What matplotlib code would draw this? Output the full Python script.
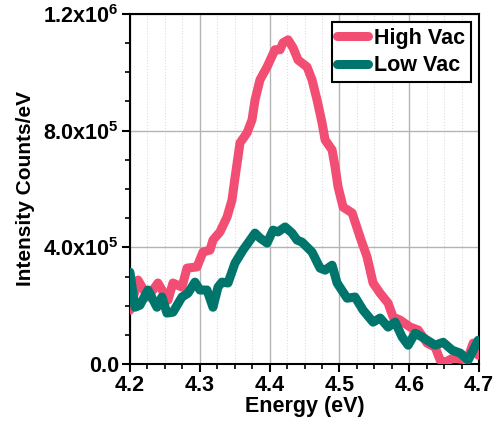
import numpy as np
import matplotlib.pyplot as plt
from matplotlib.ticker import MultipleLocator, FixedLocator, FixedFormatter

plt.rcParams['font.family'] = ['Liberation Sans', 'DejaVu Sans']
plt.rcParams['font.weight'] = 'bold'
plt.rcParams['mathtext.fontset'] = 'custom'
plt.rcParams['mathtext.rm'] = 'Liberation Sans:bold'
plt.rcParams['mathtext.bf'] = 'Liberation Sans:bold'

# High Vac curve (energy in eV, intensity in counts/eV)
high_e = [4.200, 4.2115, 4.2258, 4.2401, 4.2544, 4.2616, 4.2745, 4.2817, 4.2960, 4.3046,
          4.3146, 4.3189, 4.3289, 4.3390, 4.3461, 4.3504, 4.3576, 4.3676, 4.3748, 4.3791,
          4.3862, 4.3963, 4.4077, 4.4149, 4.4192, 4.4264, 4.4335, 4.4407, 4.4536, 4.4607,
          4.4679, 4.4751, 4.4794, 4.4894, 4.4937, 4.4980, 4.5052, 4.5181, 4.5295, 4.5395,
          4.5481, 4.5582, 4.5696, 4.5768, 4.5868, 4.6011, 4.6126, 4.6255, 4.6370, 4.6441,
          4.6513, 4.6628, 4.6828, 4.6914, 4.6986]
high_i = [185e3, 288e3, 230e3, 278e3, 219e3, 278e3, 264e3, 329e3, 333e3, 384e3,
          391e3, 425e3, 453e3, 504e3, 562e3, 638e3, 758e3, 792e3, 837e3, 905e3,
          974e3, 1018e3, 1077e3, 1077e3, 1101e3, 1111e3, 1084e3, 1042e3, 1018e3, 974e3,
          905e3, 826e3, 768e3, 734e3, 676e3, 607e3, 538e3, 518e3, 435e3, 367e3,
          278e3, 243e3, 209e3, 161e3, 151e3, 127e3, 117e3, 72e3, 58e3, 14e3,
          7e3, 21e3, 14e3, 72e3, 31e3]

# Low Vac curve
low_e = [4.200, 4.2072, 4.2143, 4.2258, 4.2387, 4.2458, 4.2530, 4.2616, 4.2745, 4.2831,
         4.2931, 4.3003, 4.3103, 4.3189, 4.3261, 4.3318, 4.3404, 4.3504, 4.3619, 4.3691,
         4.3791, 4.3862, 4.3963, 4.4049, 4.4120, 4.4221, 4.4321, 4.4393, 4.4464, 4.4607,
         4.4722, 4.4794, 4.4894, 4.4966, 4.5109, 4.5223, 4.5338, 4.5481, 4.5582, 4.5696,
         4.5797, 4.5897, 4.5983, 4.6083, 4.6183, 4.6370, 4.6484, 4.6613, 4.6728, 4.6842,
         4.6986]
low_i = [315e3, 195e3, 202e3, 254e3, 195e3, 230e3, 175e3, 178e3, 230e3, 243e3,
         281e3, 254e3, 254e3, 195e3, 264e3, 281e3, 278e3, 346e3, 391e3, 415e3,
         449e3, 432e3, 415e3, 459e3, 453e3, 470e3, 449e3, 425e3, 418e3, 384e3,
         329e3, 322e3, 339e3, 278e3, 226e3, 230e3, 185e3, 144e3, 158e3, 127e3,
         144e3, 93e3, 65e3, 106e3, 93e3, 65e3, 75e3, 48e3, 38e3, 14e3,
         82e3]

y_ticks = [0, 4e5, 8e5, 1.2e6]
y_labels = ["0.0", r"4.0x10$^{5}$", r"8.0x10$^{5}$", r"1.2x10$^{6}$"]

fig = plt.figure(figsize=(4.94, 4.32), dpi=100)
ax = fig.add_axes([0.263, 0.157, 0.707, 0.811])

ax.plot(high_e, high_i, color="#F24D72", linewidth=6.5, label="High Vac",
        solid_joinstyle='round', solid_capstyle='round', zorder=3)
ax.plot(low_e, low_i, color="#00756C", linewidth=6.5, label="Low Vac",
        solid_joinstyle='round', solid_capstyle='round', zorder=4)

ax.set_xlim(4.2, 4.7)
ax.set_ylim(0, 1.2e6)
ax.xaxis.set_major_locator(MultipleLocator(0.1))
ax.xaxis.set_minor_locator(MultipleLocator(0.025))
ax.yaxis.set_major_locator(FixedLocator(y_ticks))
ax.yaxis.set_major_formatter(FixedFormatter(y_labels))
ax.yaxis.set_minor_locator(MultipleLocator(1e5))

ax.grid(True, which='major', color='#b4b4b4', linewidth=1.0, linestyle='-')
ax.grid(True, which='minor', axis='x', color='#dddddd', linewidth=0.8, linestyle=':')
ax.set_axisbelow(True)

ax.tick_params(axis='both', which='major', direction='out', length=6, width=1.5,
               labelsize=15.5, pad=2)
ax.tick_params(axis='both', which='minor', direction='out', length=3.5, width=1.2)
for s in ax.spines.values():
    s.set_linewidth(1.5)

ax.set_xlabel("Energy (eV)", fontsize=15.5, fontweight='bold', labelpad=0)
ax.set_ylabel("Intensity Counts/eV", fontsize=15, fontweight='bold', labelpad=6)

leg = ax.legend(loc='upper right', fontsize=15.5, frameon=True, fancybox=False,
                handlelength=1.4, handletextpad=0.3, borderpad=0.25,
                labelspacing=0.3, borderaxespad=0.4)
leg.get_frame().set_edgecolor('black')
leg.get_frame().set_linewidth(1.5)
leg.get_frame().set_alpha(1)

fig.savefig("out.png", dpi=100)
